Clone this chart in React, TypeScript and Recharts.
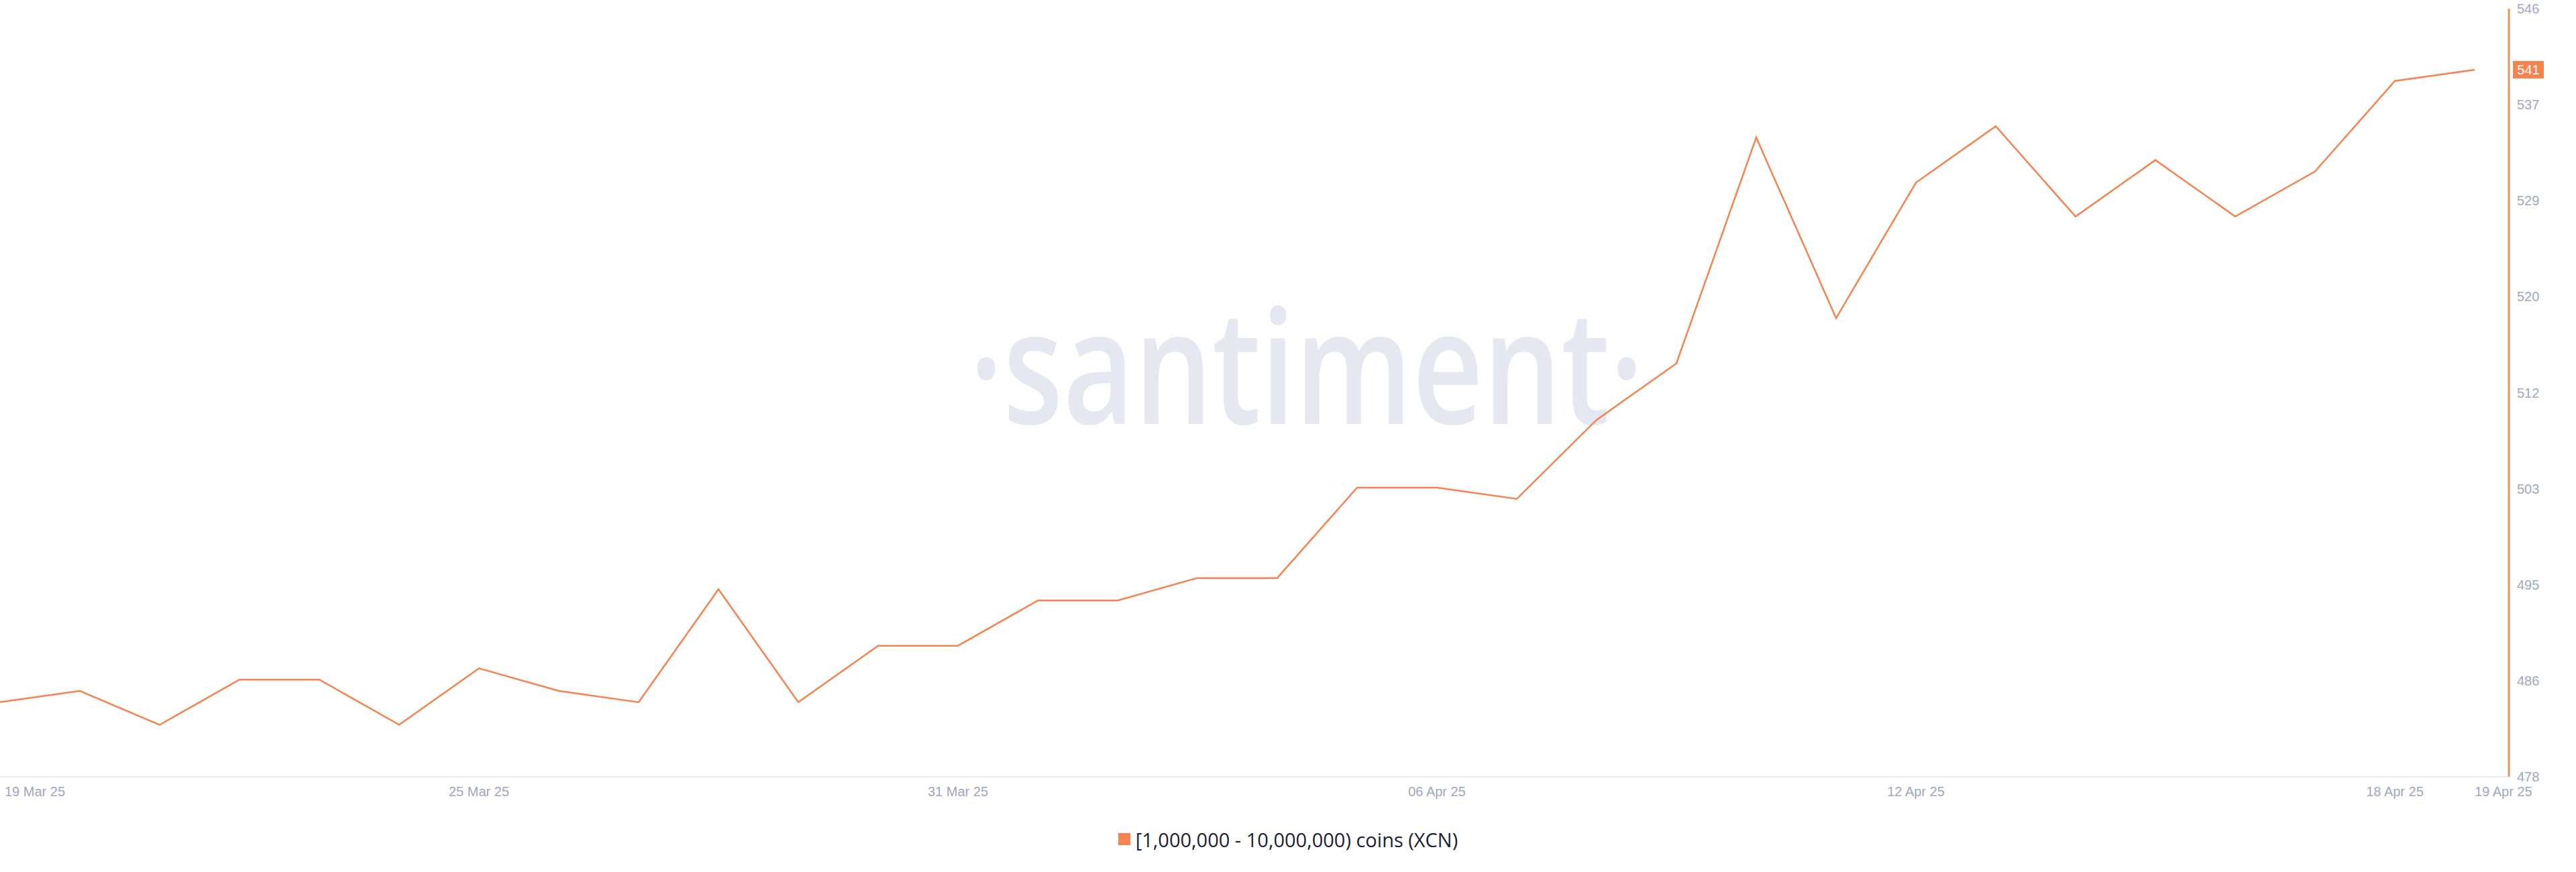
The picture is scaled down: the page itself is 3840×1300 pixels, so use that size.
import React from "react";
import { LineChart, Line, XAxis, YAxis, ReferenceLine, Legend } from "recharts";

const dates = [
  "19 Mar 25", "20 Mar 25", "21 Mar 25", "22 Mar 25", "23 Mar 25", "24 Mar 25", "25 Mar 25", "26 Mar 25",
  "27 Mar 25", "28 Mar 25", "29 Mar 25", "30 Mar 25", "31 Mar 25", "01 Apr 25", "02 Apr 25", "03 Apr 25",
  "04 Apr 25", "05 Apr 25", "06 Apr 25", "07 Apr 25", "08 Apr 25", "09 Apr 25", "10 Apr 25", "11 Apr 25",
  "12 Apr 25", "13 Apr 25", "14 Apr 25", "15 Apr 25", "16 Apr 25", "17 Apr 25", "18 Apr 25", "19 Apr 25",
];
const holders = [
  485, 486, 483, 487, 487, 483, 488, 486, 485, 495, 485, 490, 490, 494, 494, 496,
  496, 504, 504, 503, 510, 515, 535, 519, 531, 536, 528, 533, 528, 532, 540, 541,
];
const xTickLabels = ["19 Mar 25", "25 Mar 25", "31 Mar 25", "06 Apr 25", "12 Apr 25", "18 Apr 25", "19 Apr 25"];
const yTicks = [478.4, 486.9, 495.4, 503.9, 512.4, 520.9, 529.4, 537.9, 546.4];
const seriesName = "[1,000,000 - 10,000,000) coins (XCN)";

const data = dates.map((d, i) => ({ date: d, value: holders[i] }));

const ORANGE = "#f5834f";
const AXIS_ORANGE = "#e3955f";
const TICK = "#a0a7c0";
const FONT = "'Liberation Sans', Arial, sans-serif";

function DateTick(props: any) {
  const { x, y, payload, index } = props;
  if (!xTickLabels.includes(payload.value)) return null;
  const first = index === 0;
  const last = index === dates.length - 1;
  return (
    <text
      x={first ? x + 7 : x}
      y={y + 29}
      textAnchor={first || last ? "start" : "middle"}
      fill={TICK}
      fontSize={20}
      fontFamily={FONT}
    >
      {payload.value}
    </text>
  );
}

function LastBadge(props: any) {
  const { viewBox } = props;
  const bx = viewBox.x + viewBox.width + 6;
  return (
    <g>
      <rect x={bx} y={viewBox.y - 13} width={46} height={26} fill={ORANGE} />
      <text x={bx + 23} y={viewBox.y + 7} textAnchor="middle" fill="#fff" fontSize={20} fontFamily={FONT}>
        {holders[holders.length - 1]}
      </text>
    </g>
  );
}

function LegendBox() {
  return (
    <div
      style={{
        height: 86,
        boxSizing: "border-box",
        paddingBottom: 12,
        display: "flex",
        justifyContent: "center",
        alignItems: "center",
      }}
    >
      <span style={{ width: 18, height: 18, background: ORANGE, display: "inline-block", marginRight: 8 }} />
      <span style={{ fontFamily: "'Open Sans', sans-serif", fontSize: 29, color: "#1c2033" }}>{seriesName}</span>
    </div>
  );
}

export default function App() {
  return (
    <div style={{ position: "relative", width: 3840, height: 1300, background: "#fff" }}>
      <style>{"body{margin:0}"}</style>
      <svg width={3840} height={1300} style={{ position: "absolute", left: 0, top: 0 }}>
        <text
          x={1445}
          y={632}
          textLength={1005}
          lengthAdjust="spacingAndGlyphs"
          fontFamily="'Open Sans', sans-serif"
          fontWeight={600}
          fontSize={236}
          fill="#e5e8f0"
        >
          ·santiment·
        </text>
      </svg>
      <div style={{ position: "absolute", left: 0, top: 0 }}>
        <LineChart width={3840} height={1300} data={data} margin={{ top: 13, right: 0, bottom: 0, left: 0 }}>
          <XAxis
            dataKey="date"
            interval={0}
            padding={{ left: 0, right: 51 }}
            height={56}
            tickLine={false}
            tickSize={0}
            tickMargin={0}
            axisLine={{ stroke: "#ebebf0", strokeWidth: 2 }}
            tick={<DateTick />}
          />
          <YAxis
            orientation="right"
            width={100}
            domain={[478.4, 546.4]}
            ticks={yTicks}
            tickFormatter={(v: number) => String(Math.floor(v))}
            tickLine={false}
            tickSize={0}
            tickMargin={12}
            axisLine={{ stroke: AXIS_ORANGE, strokeWidth: 3 }}
            tick={{ fill: TICK, fontSize: 20, fontFamily: FONT }}
          />
          <ReferenceLine y={holders[holders.length - 1]} stroke="none" label={<LastBadge />} />
          <Legend verticalAlign="bottom" height={86} content={<LegendBox />} />
          <Line
            type="linear"
            dataKey="value"
            name={seriesName}
            stroke={ORANGE}
            strokeWidth={2.5}
            dot={false}
            isAnimationActive={false}
          />
        </LineChart>
      </div>
    </div>
  );
}
